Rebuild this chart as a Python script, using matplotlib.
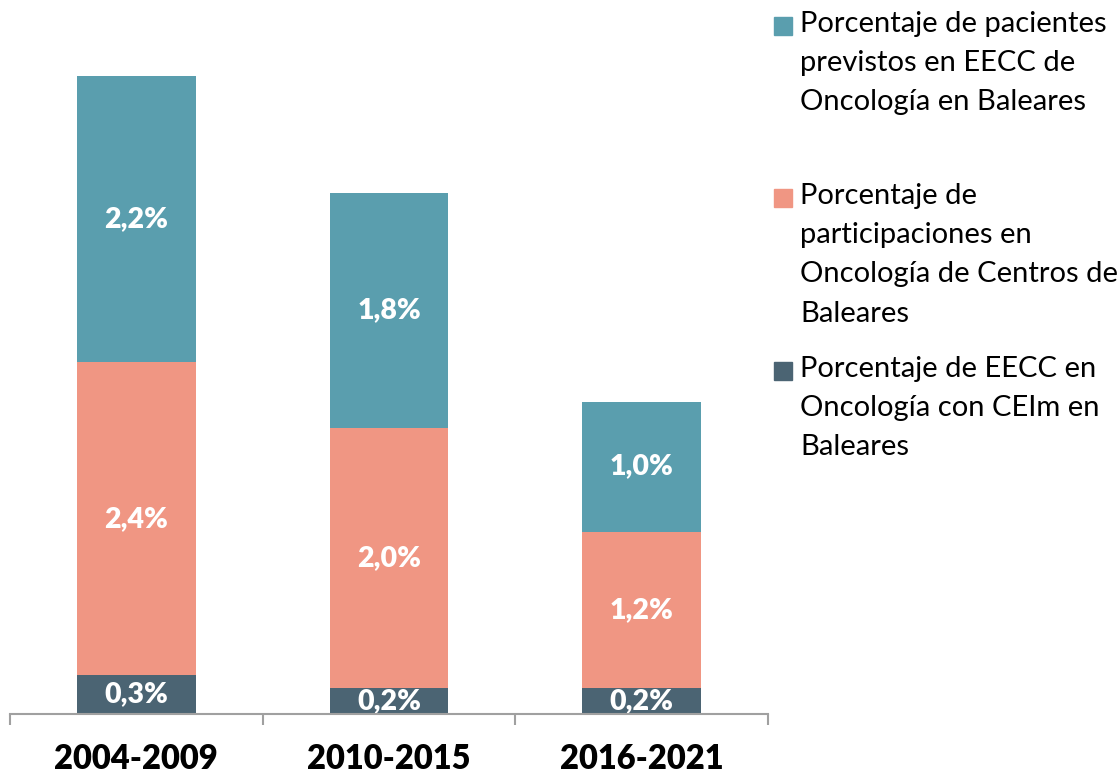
#!/usr/bin/env python3
"""
Stacked bars: oncology clinical trials in Baleares
"""

import matplotlib.pyplot as plt
from matplotlib.patches import Rectangle

plt.rcParams["font.family"] = ["Lato", "DejaVu Sans"]

periods = ["2004-2009", "2010-2015", "2016-2021"]
eecc_ceim = [0.3, 0.2, 0.2]
participaciones = [2.4, 2.0, 1.2]
pacientes = [2.2, 1.8, 1.0]

legend_labels = [
    "Porcentaje de pacientes\nprevistos en EECC de\nOncología en Baleares",
    "Porcentaje de\nparticipaciones en\nOncología de Centros de\nBaleares",
    "Porcentaje de EECC en\nOncología con CEIm en\nBaleares",
]

COL_DARK = "#4b6473"
COL_SALMON = "#f09683"
COL_TEAL = "#5a9eae"


def fmt(v: float) -> str:
    return f"{v:.1f}".replace(".", ",") + "%"


fig = plt.figure(figsize=(11.19, 7.76), dpi=100)
W, H = 1119, 776
ax = fig.add_axes([10 / W, (H - 714) / H, 758 / W, 714 / H])

x = list(range(len(periods)))
width = 0.47
bottom2 = eecc_ceim
bottom3 = [a + b for a, b in zip(eecc_ceim, participaciones)]

series = [
    (eecc_ceim, [0] * 3, COL_DARK),
    (participaciones, bottom2, COL_SALMON),
    (pacientes, bottom3, COL_TEAL),
]
for values, bottom, color in series:
    bars = ax.bar(x, values, width, bottom=bottom, color=color, zorder=2)
    ax.bar_label(
        bars,
        labels=[fmt(v) for v in values],
        label_type="center",
        color="white",
        fontsize=20.5,
        fontweight="heavy",
        zorder=3,
    )

ax.set_xlim(-0.5, 2.5)
ax.set_ylim(0, 714 / 130.2)

for side in ("left", "right", "top"):
    ax.spines[side].set_visible(False)
ax.spines["bottom"].set_color("#a0a0a0")
ax.spines["bottom"].set_linewidth(1.5)
ax.spines["bottom"].set_zorder(4)
ax.set_yticks([])

# boundary ticks, labels at bar centres
ax.set_xticks([-0.5, 0.5, 1.5, 2.5])
ax.set_xticklabels([])
ax.tick_params(axis="x", which="major", direction="out", length=8,
               width=1.5, color="#a0a0a0")
ax.set_xticks(x, minor=True)
ax.set_xticklabels(periods, minor=True, fontsize=23.5, fontweight="heavy")
ax.tick_params(axis="x", which="minor", length=0, pad=21)

# legend drawn by hand to keep the uneven spacing
legend_colors = [COL_TEAL, COL_SALMON, COL_DARK]
legend_tops = [11, 183, 356]
for label, color, top in zip(legend_labels, legend_colors, legend_tops):
    fig.patches.append(
        Rectangle((774 / W, 1 - (top + 24) / H), 18 / W, 18 / H,
                  transform=fig.transFigure, color=color)
    )
    fig.text(800 / W, 1 - top / H, label, fontsize=21, va="top",
             ha="left", linespacing=1.63)

fig.savefig("out.png", dpi=100)
